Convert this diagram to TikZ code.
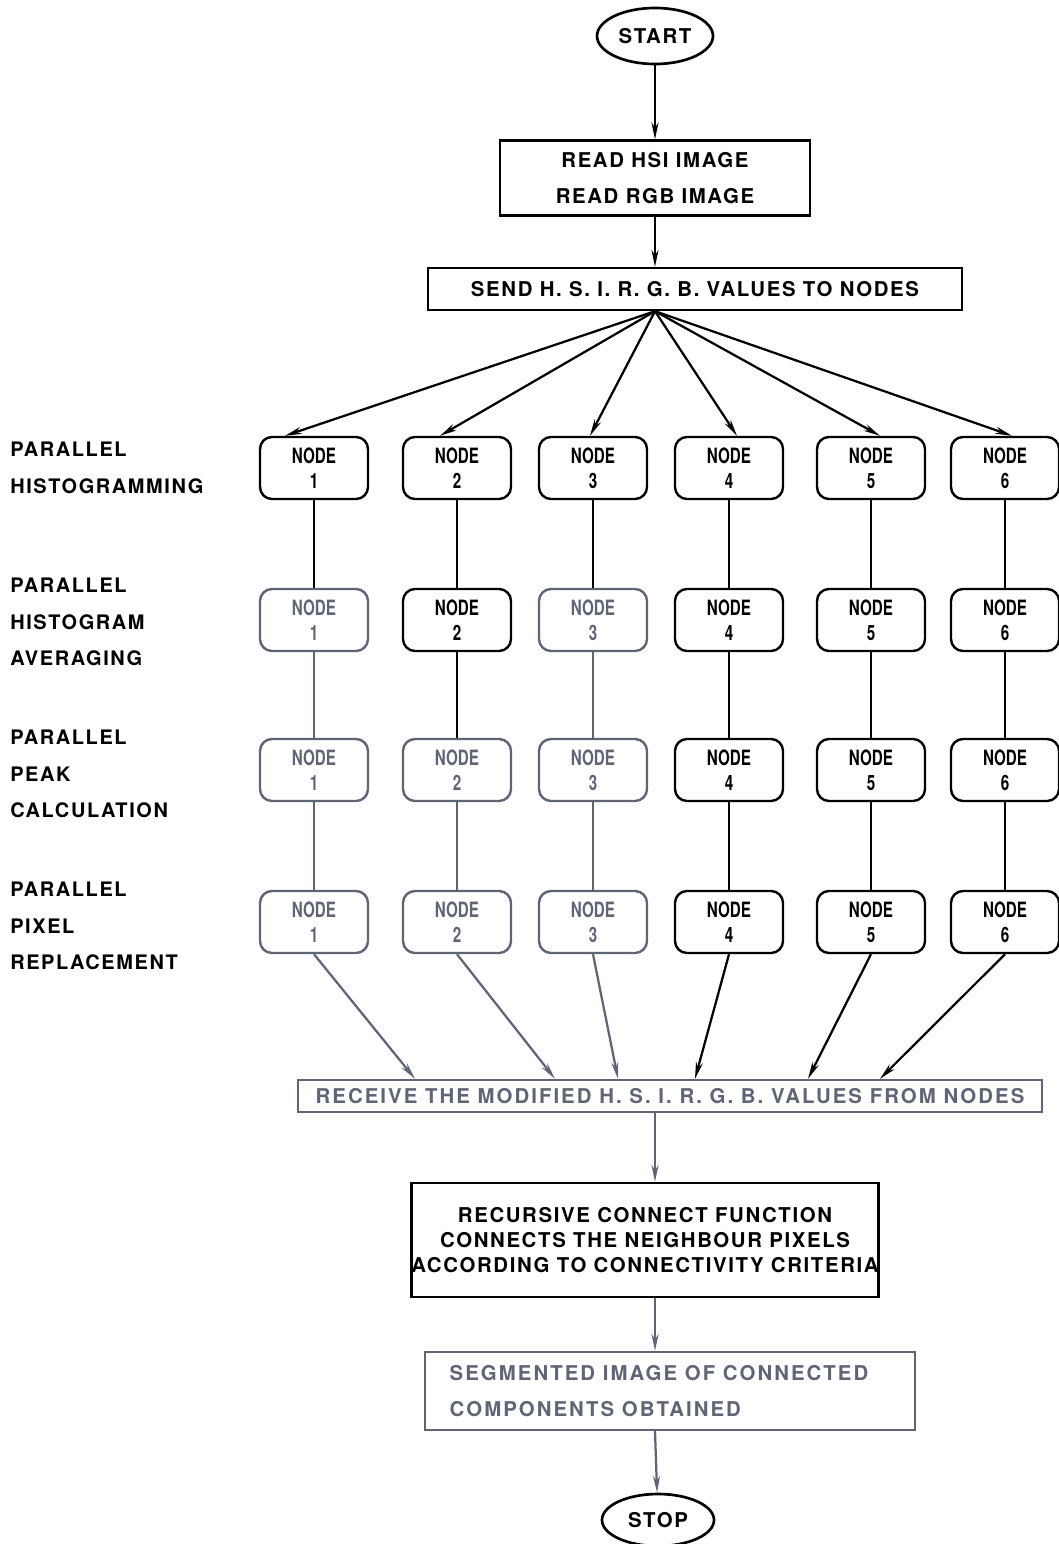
\documentclass[tikz,border=0pt]{standalone}
\usepackage{fontspec}
\setmainfont{TeX Gyre Heros}[LetterSpace=8]
\newfontfamily\narrowfont{TeX Gyre Heros}[FakeStretch=0.72]
\usepackage{tikz}
\usetikzlibrary{positioning,shapes.geometric,arrows.meta,calc}
\definecolor{ink}{RGB}{96,101,118}

\begin{document}
\begin{tikzpicture}[
  x=0.025cm, y=-0.025cm,
  every node/.style={font=\bfseries\fontsize{14.5}{17.8}\selectfont},
  pnode/.style={draw,rounded corners=0.3cm,line width=1.7pt,minimum width=2.7cm,
    minimum height=1.55cm,align=center,inner sep=1pt,
    font=\narrowfont\bfseries\fontsize{15}{17.5}\selectfont},
  box/.style={draw,line width=1.7pt,align=center,inner sep=0pt},
  term/.style={draw,ellipse,line width=1.9pt,minimum width=2.8cm,minimum height=1.4cm},
  lbl/.style={anchor=west,align=left,inner sep=0pt,
    font=\bfseries\fontsize{14.2}{26}\selectfont},
  arr/.style={line width=1.6pt,-{Stealth[length=12pt,width=5pt]}},
  link/.style={line width=1.6pt}
]
  \useasboundingbox (0,0) rectangle (1058,1544);

  % top part
  \node[term] (start) at (655,36) {START};
  \node[box,minimum width=7.75cm,minimum height=1.875cm,
    font=\bfseries\fontsize{14.5}{26}\selectfont] (read) at (655,178)
    {READ HSI IMAGE\\READ RGB IMAGE};
  \node[box,minimum width=13.35cm,minimum height=1.05cm] (send) at (695,289)
    {SEND H. S. I. R. G. B. VALUES TO NODES};

  % stage labels
  \node[lbl] (l1) at (10,468) {PARALLEL\\HISTOGRAMMING};
  \node[lbl] (l2) at (10,622) {PARALLEL\\HISTOGRAM\\AVERAGING};
  \node[lbl] (l3) at (10,774) {PARALLEL\\PEAK\\CALCULATION};
  \node[lbl] (l4) at (10,926) {PARALLEL\\PIXEL\\REPLACEMENT};

  % processor grid
  \foreach \k/\x/\ca/\cb/\cc/\cd in {1/314/black/ink/ink/ink,
      2/457/black/black/ink/ink, 3/593/black/ink/ink/ink,
      4/729/black/black/black/black, 5/871/black/black/black/black,
      6/1005/black/black/black/black}{
    \node[pnode,draw=\ca,text=\ca] (n\k1) at (\x,468) {NODE\\\k};
    \node[pnode,draw=\cb,text=\cb] (n\k2) at (\x,620) {NODE\\\k};
    \node[pnode,draw=\cc,text=\cc] (n\k3) at (\x,770) {NODE\\\k};
    \node[pnode,draw=\cd,text=\cd] (n\k4) at (\x,922) {NODE\\\k};
    \draw[link,\ca] (n\k1) -- (n\k2);
    \draw[link,\cb] (n\k2) -- (n\k3);
    \draw[link,\cc] (n\k3) -- (n\k4);
  }

  % bottom part
  \node[box,draw=ink,text=ink,minimum width=18.6cm,minimum height=0.8cm,
    font=\bfseries\fontsize{14.5}{17.8}\selectfont\addfontfeature{LetterSpace=10}] (recv) at (670,1096)
    {RECEIVE THE MODIFIED H. S. I. R. G. B. VALUES FROM NODES};
  \node[box,minimum width=11.6cm,minimum height=2.85cm] (rec) at (645,1240)
    {RECURSIVE CONNECT FUNCTION\\CONNECTS THE NEIGHBOUR PIXELS\\ACCORDING TO CONNECTIVITY CRITERIA};
  \node[box,draw=ink,text=ink,minimum width=12.25cm,minimum height=1.95cm,
    align=left,font=\bfseries\fontsize{14.5}{26}\selectfont\addfontfeature{LetterSpace=10}] (seg) at (670,1391)
    {SEGMENTED IMAGE OF CONNECTED\hspace*{0.55cm}\\COMPONENTS OBTAINED};
  \node[term,minimum height=1.3cm] (stop) at (658,1520) {STOP};

  % connectors
  \draw[arr] (start) -- (read);
  \draw[arr] (read) -- (read |- send.north);
  \coordinate (hub) at (start |- send.south);
  \foreach \k/\dx in {1/-29,2/-17,3/-3,4/8,5/9,6/7}
    \draw[arr] (hub) -- ($(n\k1.north)+(\dx,0)$);
  \foreach \k/\cl/\ex in {1/ink/-255,2/ink/-115,3/ink/-52,4/black/25,5/black/138,6/black/210}
    \draw[arr,\cl] (n\k4.south) -- ($(recv.north)+(\ex,0)$);
  \draw[arr,ink] (recv.south -| start) -- (rec.north -| start);
  \draw[arr,ink] (rec.south -| start) -- (seg.north -| start);
  \draw[arr,ink] (seg.south -| start) -- (stop);
\end{tikzpicture}
\end{document}
